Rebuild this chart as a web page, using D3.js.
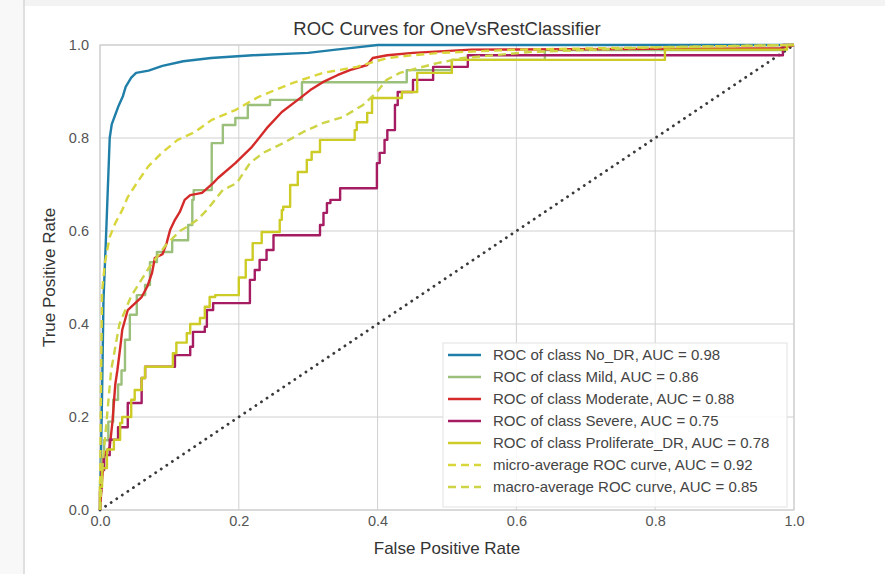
<!DOCTYPE html>
<html>
<head>
<meta charset="utf-8">
<script src="https://cdn.jsdelivr.net/npm/d3@7"></script>
<style>
  body { margin: 0; background: #fff; }
  svg { display: block; font-family: "Liberation Sans", Arial, sans-serif; }
</style>
</head>
<body>
<div id="chart"></div>
<script>
// ROC curves (fpr / tpr corner points)
const noDrFpr = [0, 0.003, 0.005, 0.009, 0.012, 0.014, 0.017, 0.022, 0.027, 0.033, 0.037, 0.045, 0.052, 0.07, 0.09, 0.12, 0.16, 0.22, 0.3, 0.34, 0.37, 0.4, 1];
const noDrTpr = [0, 0.25, 0.45, 0.6, 0.72, 0.8, 0.83, 0.85, 0.87, 0.89, 0.91, 0.93, 0.94, 0.945, 0.955, 0.965, 0.972, 0.978, 0.983, 0.99, 0.995, 1, 1];

const mildFpr = [0, 0.002, 0.006, 0.012, 0.019, 0.026, 0.031, 0.036, 0.043, 0.053, 0.065, 0.072, 0.082, 0.104, 0.127, 0.133, 0.135, 0.161, 0.177, 0.195, 0.213, 0.245, 0.291, 0.442, 0.507, 0.641, 0.985, 1];
const mildTpr = [0, 0.065, 0.11, 0.15, 0.19, 0.237, 0.27, 0.3, 0.366, 0.42, 0.462, 0.484, 0.533, 0.555, 0.58, 0.613, 0.667, 0.688, 0.789, 0.828, 0.843, 0.871, 0.882, 0.92, 0.946, 0.968, 0.989, 1];

const moderateFpr = [0, 0.003, 0.006, 0.014, 0.018, 0.022, 0.025, 0.03, 0.032, 0.04, 0.06, 0.068, 0.075, 0.079, 0.09, 0.096, 0.101, 0.108, 0.115, 0.122, 0.13, 0.147, 0.163, 0.17, 0.195, 0.219, 0.242, 0.262, 0.285, 0.303, 0.321, 0.342, 0.36, 0.385, 0.393, 0.414, 0.451, 0.535, 0.98, 1];
const moderateTpr = [0, 0.065, 0.12, 0.135, 0.19, 0.27, 0.3, 0.36, 0.387, 0.43, 0.458, 0.48, 0.51, 0.542, 0.55, 0.574, 0.602, 0.624, 0.641, 0.667, 0.677, 0.682, 0.703, 0.714, 0.746, 0.781, 0.824, 0.856, 0.882, 0.903, 0.92, 0.935, 0.946, 0.957, 0.972, 0.978, 0.983, 0.99, 0.993, 1];

const severeFpr = [0, 0.002, 0.006, 0.014, 0.026, 0.04, 0.06, 0.065, 0.108, 0.13, 0.134, 0.151, 0.154, 0.163, 0.216, 0.223, 0.23, 0.24, 0.25, 0.317, 0.322, 0.327, 0.332, 0.346, 0.399, 0.403, 0.41, 0.414, 0.425, 0.429, 0.451, 0.48, 0.53, 0.62, 0.984, 1];
const severeTpr = [0, 0.04, 0.086, 0.118, 0.151, 0.178, 0.23, 0.284, 0.308, 0.333, 0.351, 0.383, 0.394, 0.43, 0.445, 0.495, 0.516, 0.538, 0.559, 0.591, 0.613, 0.639, 0.66, 0.667, 0.692, 0.746, 0.768, 0.796, 0.817, 0.871, 0.899, 0.925, 0.953, 0.978, 0.978, 1];

const prolifFpr = [0, 0.003, 0.01, 0.02, 0.029, 0.032, 0.045, 0.05, 0.06, 0.065, 0.105, 0.11, 0.125, 0.13, 0.144, 0.151, 0.158, 0.166, 0.2, 0.21, 0.22, 0.233, 0.259, 0.262, 0.264, 0.274, 0.285, 0.298, 0.305, 0.317, 0.367, 0.37, 0.385, 0.392, 0.435, 0.457, 0.507, 0.814, 0.99, 1];
const prolifTpr = [0, 0.05, 0.09, 0.13, 0.151, 0.187, 0.2, 0.237, 0.258, 0.284, 0.308, 0.337, 0.36, 0.38, 0.4, 0.413, 0.437, 0.458, 0.462, 0.5, 0.538, 0.574, 0.598, 0.624, 0.645, 0.652, 0.699, 0.727, 0.753, 0.77, 0.796, 0.817, 0.834, 0.854, 0.886, 0.899, 0.94, 0.968, 0.99, 1];

const microFpr = [0, 0.001, 0.002, 0.003, 0.007, 0.014, 0.022, 0.032, 0.04, 0.053, 0.069, 0.089, 0.112, 0.137, 0.161, 0.195, 0.228, 0.252, 0.277, 0.321, 0.37, 0.414, 0.451, 0.49, 0.6, 0.8, 1];
const microTpr = [0, 0.2, 0.35, 0.47, 0.531, 0.587, 0.617, 0.645, 0.673, 0.703, 0.738, 0.768, 0.796, 0.813, 0.839, 0.86, 0.888, 0.903, 0.918, 0.94, 0.953, 0.972, 0.978, 0.983, 0.99, 0.995, 1];

const macroFpr = [0, 0.004, 0.01, 0.016, 0.028, 0.045, 0.07, 0.095, 0.115, 0.13, 0.14, 0.154, 0.177, 0.197, 0.216, 0.235, 0.264, 0.293, 0.321, 0.35, 0.379, 0.399, 0.413, 0.432, 0.457, 0.486, 0.523, 0.62, 0.8, 1];
const macroTpr = [0, 0.1, 0.2, 0.3, 0.4, 0.46, 0.52, 0.57, 0.6, 0.613, 0.624, 0.645, 0.688, 0.703, 0.746, 0.768, 0.789, 0.813, 0.832, 0.845, 0.871, 0.899, 0.925, 0.94, 0.95, 0.961, 0.972, 0.985, 0.995, 1];

const seriesLabels = [
  'ROC of class No_DR, AUC = 0.98',
  'ROC of class Mild, AUC = 0.86',
  'ROC of class Moderate, AUC = 0.88',
  'ROC of class Severe, AUC = 0.75',
  'ROC of class Proliferate_DR, AUC = 0.78',
  'micro-average ROC curve, AUC = 0.92',
  'macro-average ROC curve, AUC = 0.85'
];
const seriesColors = ['#1f7fa8', '#9bc07c', '#d42a2a', '#a51c62', '#cdcb26', '#d9d63c', '#cdd445'];
const tickValues = [0, 0.2, 0.4, 0.6, 0.8, 1.0];

const width = 885, height = 574;
const margin = {top: 45, right: 91, bottom: 64, left: 100};

const svg = d3.select('#chart').append('svg')
  .attr('width', width)
  .attr('height', height);

// window chrome round the screenshot
svg.append('rect').attr('x', 0).attr('y', 0).attr('width', width).attr('height', 6).attr('fill', '#f3f3f3');
svg.append('rect').attr('x', 0).attr('y', 0).attr('width', 23).attr('height', height).attr('fill', '#f8f8f8');
svg.append('line').attr('x1', 24).attr('x2', 24).attr('y1', 0).attr('y2', height)
  .attr('stroke', '#d6d6d6').attr('stroke-width', 1.5);

const x = d3.scaleLinear().domain([0, 1]).range([margin.left, width - margin.right]);
const y = d3.scaleLinear().domain([0, 1]).range([height - margin.bottom, margin.top]);

// grid
const grid = svg.append('g');
grid.selectAll('.gx').data(tickValues).enter().append('line')
  .attr('x1', d => x(d)).attr('x2', d => x(d))
  .attr('y1', y(0)).attr('y2', y(1))
  .attr('stroke', '#d0d0d0').attr('stroke-width', 1);
grid.selectAll('.gy').data(tickValues).enter().append('line')
  .attr('x1', x(0)).attr('x2', x(1))
  .attr('y1', d => y(d)).attr('y2', d => y(d))
  .attr('stroke', '#d0d0d0').attr('stroke-width', 1);

// axes (labels only, matplotlib style)
const xAxis = svg.append('g')
  .attr('transform', `translate(0,${y(0)})`)
  .call(d3.axisBottom(x).tickValues(tickValues).tickFormat(d3.format('.1f')).tickSize(0).tickPadding(6));
const yAxis = svg.append('g')
  .attr('transform', `translate(${x(0)},0)`)
  .call(d3.axisLeft(y).tickValues(tickValues).tickFormat(d3.format('.1f')).tickSize(0).tickPadding(11));
[xAxis, yAxis].forEach(a => {
  a.select('.domain').remove();
  a.selectAll('text').attr('fill', '#555').style('font-size', '14.5px')
    .style('font-family', '"Liberation Sans", Arial, sans-serif');
});

// plot frame
svg.append('rect')
  .attr('x', x(0)).attr('y', y(1))
  .attr('width', x(1) - x(0)).attr('height', y(0) - y(1))
  .attr('fill', 'none').attr('stroke', '#d0d0d0').attr('stroke-width', 1.2);

const plot = svg.append('g');

// chance line
plot.append('path')
  .datum([[0, 0], [1, 1]])
  .attr('d', d3.line().x(d => x(d[0])).y(d => y(d[1])))
  .attr('fill', 'none')
  .attr('stroke', '#3a3a3a')
  .attr('stroke-width', 2.8)
  .attr('stroke-linecap', 'round')
  .attr('stroke-dasharray', '0.1,6.6');

const zipPts = (a, b) => a.map((v, i) => [v, b[i]]);
const series = [
  {pts: zipPts(noDrFpr, noDrTpr), curve: d3.curveLinear, dash: null},
  {pts: zipPts(mildFpr, mildTpr), curve: d3.curveStepBefore, dash: null},
  {pts: zipPts(moderateFpr, moderateTpr), curve: d3.curveLinear, dash: null},
  {pts: zipPts(severeFpr, severeTpr), curve: d3.curveStepBefore, dash: null},
  {pts: zipPts(prolifFpr, prolifTpr), curve: d3.curveStepBefore, dash: null},
  {pts: zipPts(microFpr, microTpr), curve: d3.curveLinear, dash: '8,5'},
  {pts: zipPts(macroFpr, macroTpr), curve: d3.curveLinear, dash: '8,5'}
];

series.forEach((s, i) => {
  plot.append('path')
    .datum(s.pts)
    .attr('d', d3.line().x(d => x(d[0])).y(d => y(d[1])).curve(s.curve))
    .attr('fill', 'none')
    .attr('stroke', seriesColors[i])
    .attr('stroke-width', 2.4)
    .attr('stroke-linejoin', 'round')
    .attr('stroke-dasharray', s.dash);
});

// legend
const legend = svg.append('g').attr('transform', 'translate(443,343)');
legend.append('rect')
  .attr('width', 344).attr('height', 164)
  .attr('fill', '#fff').attr('fill-opacity', 0.85)
  .attr('stroke', '#e2e2e2').attr('stroke-width', 1);
seriesLabels.forEach((lab, i) => {
  const ly = 12 + i * 22;
  legend.append('line')
    .attr('x1', 5).attr('x2', 38).attr('y1', ly).attr('y2', ly)
    .attr('stroke', seriesColors[i]).attr('stroke-width', 2.4)
    .attr('stroke-dasharray', series[i].dash);
  legend.append('text')
    .attr('x', 50).attr('y', ly + 5)
    .attr('fill', '#444')
    .style('font-size', '15px')
    .text(lab);
});

// titles
svg.append('text')
  .attr('x', (x(0) + x(1)) / 2).attr('y', 35)
  .attr('text-anchor', 'middle').attr('fill', '#333')
  .style('font-size', '18.5px')
  .text('ROC Curves for OneVsRestClassifier');
svg.append('text')
  .attr('x', (x(0) + x(1)) / 2).attr('y', 554)
  .attr('text-anchor', 'middle').attr('fill', '#333')
  .style('font-size', '17px')
  .text('False Positive Rate');
svg.append('text')
  .attr('transform', `translate(55,${(y(0) + y(1)) / 2}) rotate(-90)`)
  .attr('text-anchor', 'middle').attr('fill', '#333')
  .style('font-size', '17px')
  .text('True Positive Rate');
</script>
</body>
</html>
